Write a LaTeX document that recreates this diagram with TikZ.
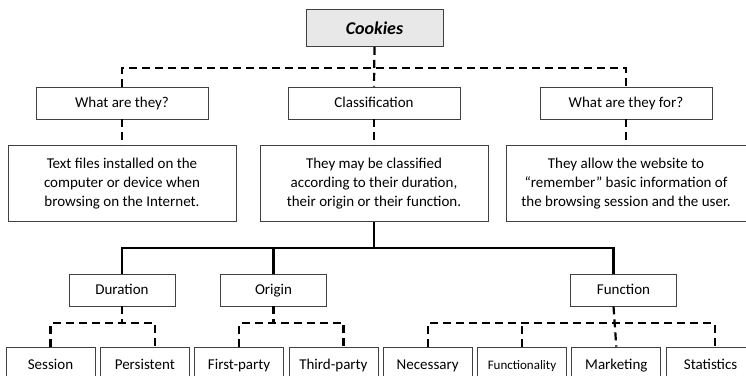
\documentclass[tikz,border=0pt]{standalone}
\usepackage{fontspec}
\setmainfont{Carlito}
\usetikzlibrary{positioning}

\begin{document}
\begin{tikzpicture}[x=1pt, y=-1pt, node distance=1cm]
    \tikzset{
        mynode/.style={rectangle, draw=black!75, line width=0.8pt, fill=white, inner sep=0pt, align=center, font=\fontsize{15}{19}\selectfont},
        topnode/.style={mynode, fill=black!9, minimum width=137pt, minimum height=37pt, font=\fontsize{18}{20}\selectfont\bfseries\itshape},
        headnode/.style={mynode, minimum width=172pt, minimum height=32pt, text height=10pt, text depth=0.5pt},
        descnode/.style={mynode, minimum width=228pt, minimum height=76pt},
        catnode/.style={mynode, minimum width=106pt, minimum height=32pt, text height=10pt, text depth=0.5pt},
        leafnode/.style={mynode, minimum width=89pt, minimum height=35pt, text height=10pt, text depth=0.5pt},
        dashline/.style={draw, line width=2.2pt, dash pattern=on 8pt off 5pt},
        solidline/.style={draw, line width=2.4pt},
    }
    \useasboundingbox (0,0) rectangle (746,375);

    \node[topnode] (cookies) at (374.5,28) {Cookies};

    \node[headnode] (what) at (122,103) {What are they?};
    \node[headnode] (class) at (374,103) {Classification};
    \node[headnode] (whatfor) at (626,103) {What are they for?};

    \node[descnode, below=26pt of what] (whatdesc) {Text files installed on the\\computer or device when\\browsing on the Internet.};
    \node[descnode, below=26pt of class] (classdesc) {They may be classified\\according to their duration,\\their origin or their function.};
    \node[descnode, minimum width=240pt, below=26pt of whatfor] (whatfordesc) {They allow the website to\\``remember'' basic information of\\the browsing session and the user.};

    \node[catnode] (duration) at (122,290) {Duration};
    \node[catnode] (origin) at (273.5,290) {Origin};
    \node[catnode] (function) at (623.5,290) {Function};

    \node[leafnode] (session) at (50.5,364.5) {Session};
    \node[leafnode, right=4.5pt of session] (persist) {Persistent};
    \node[leafnode, right=4.5pt of persist] (first) {First-party};
    \node[leafnode, right=4.5pt of first] (third) {Third-party};
    \node[leafnode, right=4.5pt of third] (necessary) {Necessary};
    \node[leafnode, right=4.5pt of necessary, font=\fontsize{13}{15}\selectfont] (functionality) {Functionality};
    \node[leafnode, right=4.5pt of functionality] (marketing) {Marketing};
    \node[leafnode, right=4.5pt of marketing] (statistics) {Statistics};

    \coordinate (topbar) at (0,68);
    \coordinate (solidbar) at (0,248);
    \coordinate (lowbar) at (0,323);
    \coordinate (funcin) at ([xshift=-10pt]function.north);
    \coordinate (funcout) at ([xshift=-10pt]function.south);

    \draw[dashline] (cookies.south) -- (class.north);
    \draw[dashline] (what.north) |- (whatfor.north |- topbar) -- (whatfor.north);
    \draw[dashline] (what.south) -- (whatdesc.north);
    \draw[dashline] (class.south) -- (classdesc.north);
    \draw[dashline] (whatfor.south) -- (whatfordesc.north);

    \draw[solidline] (classdesc.south) -- (classdesc.south |- solidbar);
    \draw[solidline] (duration.north) |- (funcin |- solidbar) -- (funcin);
    \draw[solidline] (origin.north) -- (origin.north |- solidbar);

    \draw[dashline] (duration.south) -- (duration.south |- lowbar);
    \draw[dashline] (session.north) |- ([xshift=10pt]persist.north |- lowbar) -- ([xshift=10pt]persist.north);
    \draw[dashline] (origin.south) -- (origin.south |- lowbar);
    \draw[dashline] (first.north) |- ([xshift=10pt]third.north |- lowbar) -- ([xshift=10pt]third.north);
    \draw[dashline] (funcout) -- (marketing.north);
    \draw[dashline] (necessary.north) |- ([xshift=4pt]statistics.north |- lowbar) -- ([xshift=4pt]statistics.north);
    \draw[dashline] (functionality.north) -- (functionality.north |- lowbar);
\end{tikzpicture}
\end{document}
